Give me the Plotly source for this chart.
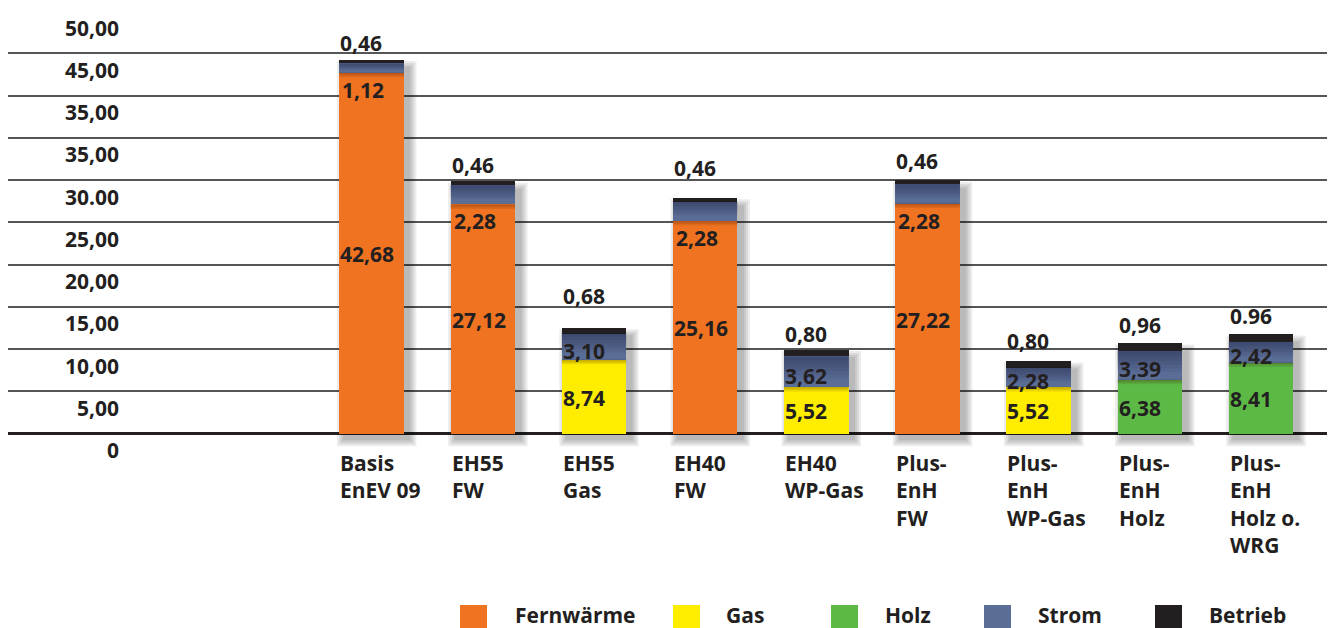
import plotly.graph_objects as go

# --- data -----------------------------------------------------------------
categories = [
    "Basis<br>EnEV 09", "EH55<br>FW", "EH55<br>Gas", "EH40<br>FW", "EH40<br>WP-Gas",
    "Plus-<br>EnH<br>FW", "Plus-<br>EnH<br>WP-Gas", "Plus-<br>EnH<br>Holz",
    "Plus-<br>EnH<br>Holz o.<br>WRG",
]
fernwaerme = [42.68, 27.12, None, 25.16, None, 27.22, None, None, None]
gas = [None, None, 8.74, None, 5.52, None, 5.52, None, None]
holz = [None, None, None, None, None, None, None, 6.38, 8.41]
strom = [1.12, 2.28, 3.10, 2.28, 3.62, 2.28, 2.28, 3.39, 2.42]
betrieb = [0.46, 0.46, 0.68, 0.46, 0.80, 0.46, 0.80, 0.96, 0.96]
betrieb_sep = [",", ",", ",", ",", ",", ",", ",", ",", "."]

y_ticks = [0, 5, 10, 15, 20, 25, 30, 35, 40, 45, 50]
y_tick_text = ["0", "5,00", "10,00", "15,00", "20,00", "25,00",
               "30.00", "35,00", "35,00", "45,00", "50,00"]

series_names = ["Fernwärme", "Gas", "Holz", "Strom", "Betrieb"]
colors = ["#F07321", "#FFED00", "#5DB946", "#5A6D96", "#231F20"]

# --- layout geometry --------------------------------------------------------
W, H = 1341, 628
M_L, M_R, M_T, M_B = 8, 14, 11, 169
X_RANGE = [-3.272, 8.594]
Y_RANGE = [-3, 50]
BAR_W = 0.58
plot_w = W - M_L - M_R
plot_h = H - M_T - M_B
px_x = plot_w / (X_RANGE[1] - X_RANGE[0])   # pixels per category
px_y = plot_h / (Y_RANGE[1] - Y_RANGE[0])   # pixels per unit

TXT = "#231F20"
FONT = "Open Sans"
bold21 = dict(family=FONT, size=21, color=TXT, weight="bold")


def fmt(v, sep=","):
    return f"{v:.2f}".replace(".", sep)


def base_of(i):
    for s in (fernwaerme, gas, holz):
        if s[i] is not None:
            return s[i]
    return 0.0


fig = go.Figure()
for name, vals, col in zip(series_names, [fernwaerme, gas, holz, strom, betrieb], colors):
    fig.add_trace(go.Bar(
        x=categories, y=vals, name=name, width=BAR_W,
        marker=dict(color=col, line=dict(width=0)),
        showlegend=False, hoverinfo="skip",
    ))

shapes = []
annotations = []

for i in range(len(categories)):
    base = base_of(i)
    total = base + strom[i] + betrieb[i]
    left, right = i - BAR_W / 2, i + BAR_W / 2

    # soft drop shadow to the lower right
    for k in range(4):
        s = 1.5 + 2.0 * k
        shapes.append(dict(
            type="rect", xref="x", yref="y", layer="between",
            x0=left + (5 - s) / px_x, x1=right + (5 + s) / px_x,
            y0=-(5 + s) / px_y, y1=total - (9 - s) / px_y,
            fillcolor="rgba(0,0,0,0.075)", line=dict(width=0),
        ))

    # darker shading fading down from the top of the Strom segment
    s_top = base + strom[i]
    for frac in (0.12, 0.24, 0.36, 0.48, 0.6, 0.72):
        shapes.append(dict(
            type="rect", xref="x", yref="y", layer="above",
            x0=left, x1=right, y0=s_top - strom[i] * frac, y1=s_top,
            fillcolor="rgba(15,20,40,0.065)", line=dict(width=0),
        ))
    # thin darker rim at the top of the base segment
    for h in (1.5, 3.0, 4.5):
        shapes.append(dict(
            type="rect", xref="x", yref="y", layer="above",
            x0=left, x1=right, y0=base - h / px_y, y1=base,
            fillcolor="rgba(60,20,0,0.1)", line=dict(width=0),
        ))

    # value labels, left-aligned at the bar's left edge
    annotations.append(dict(
        x=left, y=base / 2, xref="x", yref="y", text=fmt(base),
        xanchor="left", yanchor="middle", showarrow=False, font=bold21, yshift=-1, xshift=-1,
    ))
    if fernwaerme[i] is not None:
        annotations.append(dict(
            x=left, y=base, xref="x", yref="y", text=fmt(strom[i]),
            xanchor="left", yanchor="top", showarrow=False, font=bold21, yshift=-1, xshift=1,
        ))
    else:
        annotations.append(dict(
            x=left, y=base + strom[i] / 2, xref="x", yref="y", text=fmt(strom[i]),
            xanchor="left", yanchor="middle", showarrow=False, font=bold21, yshift=-4, xshift=-1,
        ))
    lift = [1, 0, 16, 14, 0, 3, 4, 2, 2][i]
    annotations.append(dict(
        x=left, y=total, xref="x", yref="y", text=fmt(betrieb[i], betrieb_sep[i]),
        xanchor="left", yanchor="bottom", showarrow=False, font=bold21, yshift=lift, xshift=-1,
    ))

# category labels under the bars
for i, c in enumerate(categories):
    annotations.append(dict(
        x=i - BAR_W / 2, y=0, xref="x", yref="y", text=c, align="left",
        xanchor="left", yanchor="top", showarrow=False, yshift=-13, xshift=-1,
        font=bold21,
    ))

# y tick labels sit just below their grid lines
for v, t in zip(y_ticks, y_tick_text):
    annotations.append(dict(
        x=(121 - M_L) / plot_w, y=v, xref="paper", yref="y", text=t,
        xanchor="right", yanchor="top", showarrow=False, yshift=-0.5,
        font=bold21,
    ))

# legend row
legend_px = [(460, 514), (673, 725), (831, 884), (984, 1037), (1155, 1208)]
for (sx, tx), name, col in zip(legend_px, series_names, colors):
    shapes.append(dict(
        type="rect", xref="paper", yref="paper",
        x0=(sx - M_L) / plot_w, x1=(sx + 27 - M_L) / plot_w,
        y0=(H - M_B - 628) / plot_h, y1=(H - M_B - 605) / plot_h,
        fillcolor=col, line=dict(width=0),
    ))
    annotations.append(dict(
        x=(tx - M_L) / plot_w, y=(H - M_B - 615) / plot_h, xref="paper", yref="paper",
        text=name, xanchor="left", yanchor="middle", showarrow=False, xshift=-1,
        font=bold21,
    ))

fig.update_layout(
    width=W, height=H,
    margin=dict(l=M_L, r=M_R, t=M_T, b=M_B, pad=0),
    paper_bgcolor="white", plot_bgcolor="white",
    barmode="stack", bargap=0,
    xaxis=dict(range=X_RANGE, showticklabels=False, showgrid=False, zeroline=False,
               ticks="", showline=False, fixedrange=True),
    yaxis=dict(range=Y_RANGE, tickvals=y_ticks, showticklabels=False, showgrid=True,
               gridcolor="#555555", gridwidth=1.6, zeroline=True, zerolinecolor=TXT,
               zerolinewidth=2.6, ticks="", showline=False, fixedrange=True),
    shapes=shapes, annotations=annotations,
)

fig.write_html("out.html")
